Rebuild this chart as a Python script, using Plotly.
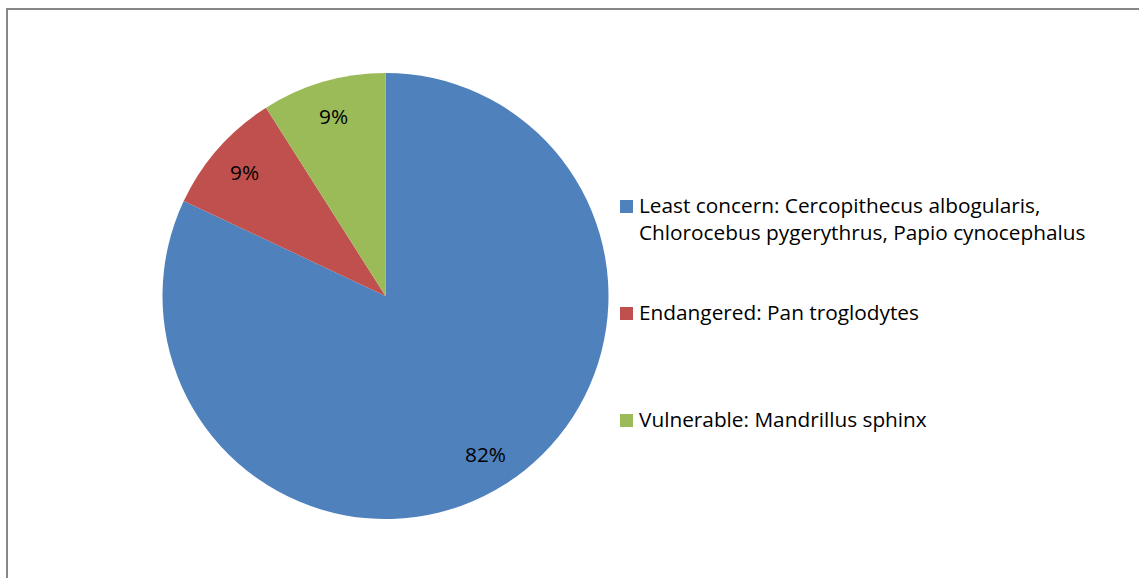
import math
import plotly.graph_objects as go

# Conservation status of the recorded primate species
labels = [
    "Least concern: Cercopithecus albogularis,<br>Chlorocebus pygerythrus, Papio cynocephalus",
    "Endangered: Pan troglodytes",
    "Vulnerable: Mandrillus sphinx",
]
values = [82, 9, 9]
colors = ["#4F81BD", "#C0504D", "#9BBB59"]

W, H = 1139, 578
FONT = "Open Sans"
FSIZE = 20.8

# Pie placement in pixels (centre and radius)
CX, CY, R = 385.5, 296, 223

fig = go.Figure()
fig.add_trace(go.Pie(
    labels=labels,
    values=values,
    marker=dict(colors=colors, line=dict(width=0)),
    sort=False,
    direction="clockwise",
    rotation=0,
    textinfo="none",
    domain=dict(x=[(CX - R) / W, (CX + R) / W], y=[1 - (CY + R) / H, 1 - (CY - R) / H]),
    showlegend=False,
    hoverinfo="label+percent",
))

# Percentage labels placed along each slice's mid-angle
total = sum(values)
start = 0.0
for v in values:
    frac = v / total
    mid = (start + frac / 2) * 2 * math.pi  # clockwise from 12 o'clock
    start += frac
    r = 0.84 * R
    px = CX + r * math.sin(mid)
    py = CY - r * math.cos(mid)
    fig.add_annotation(xref="paper", yref="paper", x=px / W, y=1 - py / H,
                       xanchor="center", yanchor="middle", showarrow=False,
                       text=f"{round(frac * 100)}%",
                       font=dict(family=FONT, size=FSIZE, color="black"))

# Legend: coloured square plus label for each category
legend_y = [206, 313, 420]
for lab, col, yc in zip(labels, colors, legend_y):
    fig.add_shape(type="rect", xref="paper", yref="paper",
                  x0=620 / W, x1=633 / W,
                  y0=1 - (yc + 7) / H, y1=1 - (yc - 6) / H,
                  fillcolor=col, line=dict(width=0))
    fig.add_annotation(xref="paper", yref="paper",
                       x=637 / W, y=1 - (yc - 17) / H,
                       xanchor="left", yanchor="top", align="left",
                       text=lab, showarrow=False,
                       font=dict(family=FONT, size=FSIZE, color="black"))

# Chart frame
fig.add_shape(type="rect", xref="paper", yref="paper",
              x0=7 / W, x1=1.05, y0=-0.05, y1=1 - 9 / H,
              line=dict(color="#878787", width=2))

fig.update_layout(
    width=W, height=H,
    margin=dict(l=0, r=0, t=0, b=0),
    paper_bgcolor="white",
    plot_bgcolor="white",
    font=dict(family=FONT),
)

fig.write_html("out.html")
